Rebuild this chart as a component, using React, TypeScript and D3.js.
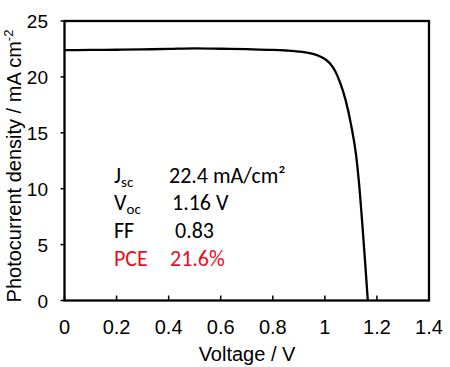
import React from "react";
import * as d3 from "d3";

const voltage = [0, 0.1, 0.2, 0.3, 0.4, 0.5, 0.6, 0.7, 0.8, 0.85, 0.9, 0.95, 0.98, 1.0, 1.02, 1.04, 1.06, 1.08, 1.1, 1.12, 1.13, 1.145, 1.155, 1.165];
const current = [22.4, 22.41, 22.43, 22.46, 22.5, 22.55, 22.52, 22.48, 22.42, 22.36, 22.27, 22.08, 21.85, 21.6, 21.2, 20.5, 19.4, 17.9, 15.8, 13.0, 10.8, 6.5, 3.3, 0];
const xTicks = [0, 0.2, 0.4, 0.6, 0.8, 1, 1.2, 1.4];
const yTicks = [0, 5, 10, 15, 20, 25];
const paramNames = ["J", "V", "FF", "PCE"];
const paramSubs = ["sc", "oc", "", ""];
const paramValues = ["22.4 mA/cm²", "1.16 V", "0.83", "21.6%"];
const paramColors = ["#000", "#000", "#000", "#e8101e"];

export default function App() {
  const W = 450, H = 367;
  const L = 64.5, R = 429, T = 21, B = 300.5;
  const x = d3.scaleLinear().domain([0, 1.4]).range([L, R]);
  const y = d3.scaleLinear().domain([0, 25]).range([B, T]);
  const line = d3.line<number>().x((_, i) => x(voltage[i])).y((d) => y(d)).curve(d3.curveMonotoneX);
  const font = "Liberation Sans, Arial, sans-serif";
  const tfont = "Carlito, Lato, sans-serif";
  const valX = [169, 172, 175, 170];
  const baseY = [183, 210, 238, 266];
  return (
    <svg width={W} height={H} style={{ position: "absolute", left: 0, top: 0, background: "#fff" }}>
      <rect x={0} y={0} width={W} height={H} fill="#fff" />
      <path d={line(current) || ""} fill="none" stroke="#000" strokeWidth={2.3} />
      <rect x={L} y={T} width={R - L} height={B - T} fill="none" stroke="#000" strokeWidth={2.3} />
      {xTicks.map((t) => (
        <g key={"x" + t}>
          <line x1={x(t)} x2={x(t)} y1={B} y2={B - 5} stroke="#000" strokeWidth={1.5} />
          <text x={x(t)} y={334} textAnchor="middle" fontFamily={font} fontSize={20}>{t}</text>
        </g>
      ))}
      {yTicks.map((t) => (
        <g key={"y" + t}>
          <line x1={L} x2={L - 4} y1={y(t)} y2={y(t)} stroke="#000" strokeWidth={1.5} />
          <text x={48} y={y(t) + 7} textAnchor="end" fontFamily={font} fontSize={19}>{t}</text>
        </g>
      ))}
      <text x={247} y={361} textAnchor="middle" fontFamily={font} fontSize={20}>Voltage / V</text>
      <text transform={`translate(21,166) rotate(-90)`} textAnchor="middle" fontFamily={font} fontSize={20}>
        Photocurrent density / mA cm<tspan dy={-8} fontSize={13}>-2</tspan>
      </text>
      {paramNames.map((n, i) => (
        <g key={n} fill={paramColors[i]} fontFamily={tfont} fontSize={22}>
          <text x={114} y={baseY[i]}>
            {n}
            {paramSubs[i] && <tspan dy={4} fontSize={15}>{paramSubs[i]}</tspan>}
          </text>
          <text x={valX[i]} y={baseY[i]}>{paramValues[i]}</text>
        </g>
      ))}
    </svg>
  );
}
